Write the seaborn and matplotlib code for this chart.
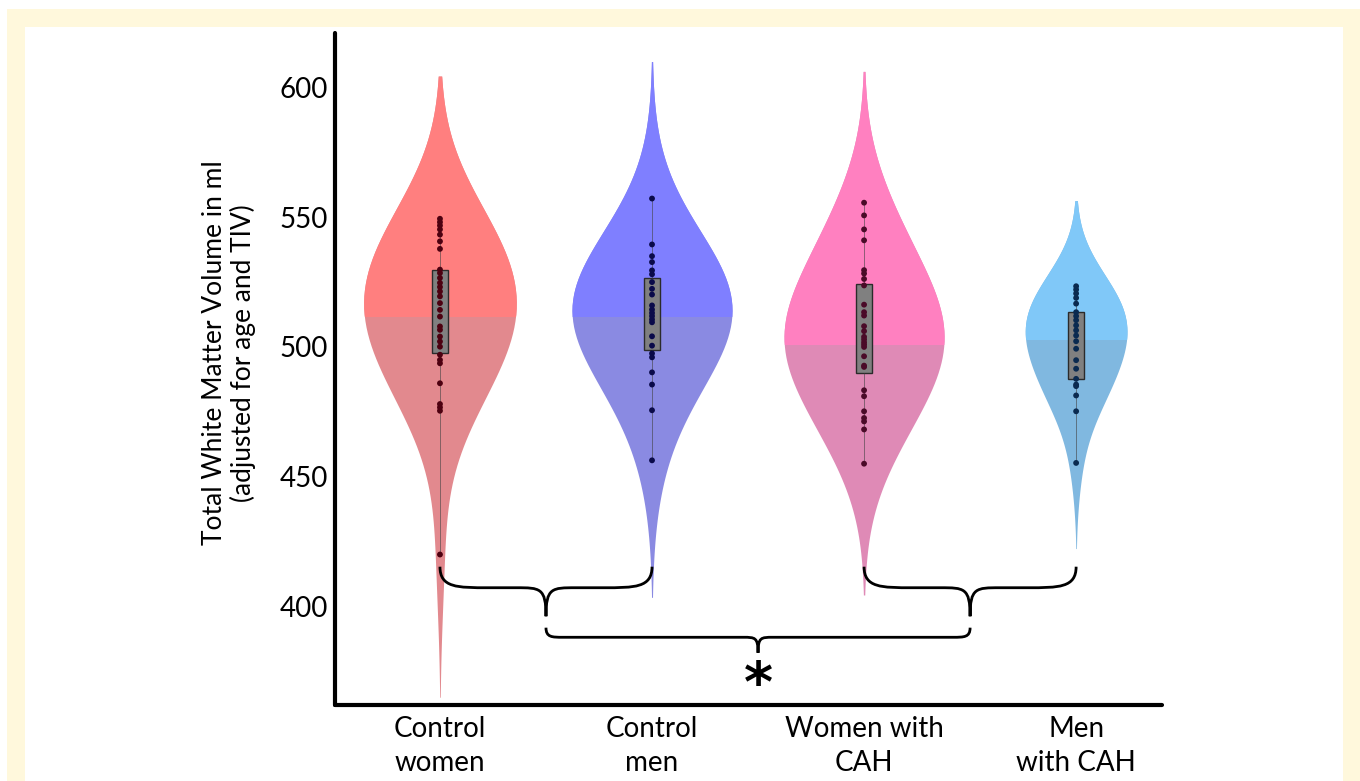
import numpy as np
import pandas as pd
import matplotlib
matplotlib.use("Agg")
import matplotlib.pyplot as plt
import seaborn as sns
from matplotlib.patches import Rectangle, PathPatch
from matplotlib.path import Path

# values (ml, adjusted for age and TIV)
groups = ["Control\nwomen", "Control\nmen", "Women with\nCAH", "Men\nwith CAH"]
control_women = [549.4, 548.1, 546.8, 545.3, 543.3, 540.7, 537.8, 529.8, 528.5, 526.6,
                 524.7, 523.1, 521.4, 519.5, 516.9, 514.3, 511.7, 507.9, 506.6, 504.0,
                 502.1, 500.1, 497.0, 495.0, 493.7, 486.0, 478.0, 476.7, 475.4, 420.0]
control_men = [557.2, 539.5, 535.0, 532.7, 529.5, 528.0, 525.0, 522.4, 520.2, 516.0,
               514.4, 513.1, 511.9, 510.6, 509.5, 504.1, 500.5, 497.5, 496.0, 490.2,
               485.5, 475.6, 456.3]
women_cah = [555.6, 550.7, 545.3, 541.1, 529.6, 528.3, 526.2, 523.7, 516.3, 513.4,
             512.1, 508.0, 506.1, 503.9, 502.9, 501.8, 500.9, 500.0, 496.4, 492.8,
             492.3, 483.3, 481.0, 475.2, 472.6, 471.3, 468.2, 455.0]
men_cah = [523.4, 522.1, 520.6, 518.9, 516.7, 513.4, 511.9, 510.3, 508.3, 506.4,
           504.4, 502.2, 499.3, 494.9, 491.6, 487.7, 485.5, 484.9, 481.3, 475.2, 455.3]
split_levels = [512, 512, 501, 503]

top_colors = ["#ff7f7f", "#7f7fff", "#ff80c0", "#80c8f8"]
low_colors = ["#e2898e", "#8a8ae2", "#df8ab6", "#80b8e0"]
dot_colors = ["#4d0010", "#0a0a4a", "#4a0a28", "#0a2a50"]
violin_widths = [0.72, 0.755, 0.755, 0.48]
kde_bw = [25, 24, 23, 15]

values = [control_women, control_men, women_cah, men_cah]
df = pd.concat([pd.DataFrame({"group": g, "value": v}) for g, v in zip(groups, values)],
               ignore_index=True)

sns.set_style("white")
plt.rcParams["font.family"] = ["Lato", "DejaVu Sans"]
plt.rcParams.update({"text.color": "black", "axes.labelcolor": "black",
                     "xtick.color": "black", "ytick.color": "black"})

fig = plt.figure(figsize=(13.6, 7.81), dpi=100)
fig.patches.append(Rectangle((7 / 1360, 0), 1353 / 1360, 772 / 781, transform=fig.transFigure,
                             facecolor="#fff8dc", edgecolor="none", zorder=-10))
fig.patches.append(Rectangle((25 / 1360, 0), 1318 / 1360, 754 / 781, transform=fig.transFigure,
                             facecolor="white", edgecolor="none", zorder=-9))
ax = fig.add_axes([335 / 1360, 1 - 705 / 781, 827 / 1360, 672 / 781])
ax.set_facecolor("none")

# each violin drawn twice: muted colour underneath, bright colour clipped above the split
for i, g in enumerate(groups):
    sub = df[df["group"] == g]
    bw = kde_bw[i] / sub["value"].std()
    for col, above in [(low_colors[i], False), (top_colors[i], True)]:
        n_before = len(ax.collections)
        sns.violinplot(data=sub, x="group", y="value", order=groups, color=col,
                       saturation=1, inner=None, linewidth=0, cut=2.2, bw_method=bw,
                       density_norm="width", width=violin_widths[i], ax=ax)
        if above:
            clip = Rectangle((i - 0.5, split_levels[i]), 1, 500, transform=ax.transData)
            for c in ax.collections[n_before:]:
                c.set_clip_path(clip)

sns.boxplot(data=df, x="group", y="value", order=groups, width=0.075, whis=(0, 100),
            showcaps=False, showfliers=False, color="#808080", saturation=1,
            linecolor="#2b2b2b", linewidth=1,
            medianprops=dict(linewidth=0),
            whiskerprops=dict(color="#444444", linewidth=0.6, alpha=0.7), ax=ax)

sns.stripplot(data=df, x="group", y="value", order=groups, hue="group", hue_order=groups,
              palette=dot_colors, jitter=False, size=4.2, linewidth=0, legend=False,
              zorder=5, ax=ax)


def brace(x0, x1, y_end, y_mid, y_tip, a, b):
    xm = (x0 + x1) / 2
    verts = [(x0, y_end), (x0, y_mid), (x0 + a * 0.35, y_mid), (x0 + a, y_mid),
             (xm - b, y_mid),
             (xm - b * 0.2, y_mid), (xm, y_mid), (xm, y_tip),
             (xm, y_mid), (xm + b * 0.2, y_mid), (xm + b, y_mid),
             (x1 - a, y_mid),
             (x1 - a * 0.35, y_mid), (x1, y_mid), (x1, y_end)]
    codes = [Path.MOVETO, Path.CURVE4, Path.CURVE4, Path.CURVE4, Path.LINETO,
             Path.CURVE4, Path.CURVE4, Path.CURVE4,
             Path.CURVE4, Path.CURVE4, Path.CURVE4, Path.LINETO,
             Path.CURVE4, Path.CURVE4, Path.CURVE4]
    ax.add_patch(PathPatch(Path(verts, codes), facecolor="none", edgecolor="black",
                           linewidth=2, zorder=6))


brace(0, 1, 415.3, 407.2, 396.2, 0.23, 0.14)
brace(2, 3, 415.3, 407.2, 396.2, 0.23, 0.14)
brace(0.5, 2.5, 391.8, 388.1, 382.1, 0.08, 0.07)
ax.text(1.5, 369.5, "*", fontsize=40, fontweight="bold", ha="center", va="center",
        family="DejaVu Sans")

ax.set_ylim(362, 621)
ax.set_xlim(-0.495, 3.405)
ax.set_yticks([400, 450, 500, 550, 600])
ax.set_xlabel("")
ax.set_ylabel("Total White Matter Volume in ml\n(adjusted for age and TIV)",
              fontsize=19, linespacing=1.15)
ax.yaxis.set_label_coords(-0.095, 0.524)
ax.tick_params(axis="both", length=0, labelsize=20)
ax.tick_params(axis="y", pad=5)
ax.tick_params(axis="x", pad=8)
for lab in ax.get_xticklabels():
    lab.set_linespacing(1.38)
for s in ["top", "right"]:
    ax.spines[s].set_visible(False)
for s in ["left", "bottom"]:
    ax.spines[s].set_linewidth(3)
    ax.spines[s].set_color("black")
    ax.spines[s].set_capstyle("round")

fig.savefig("out.png", dpi=100)
